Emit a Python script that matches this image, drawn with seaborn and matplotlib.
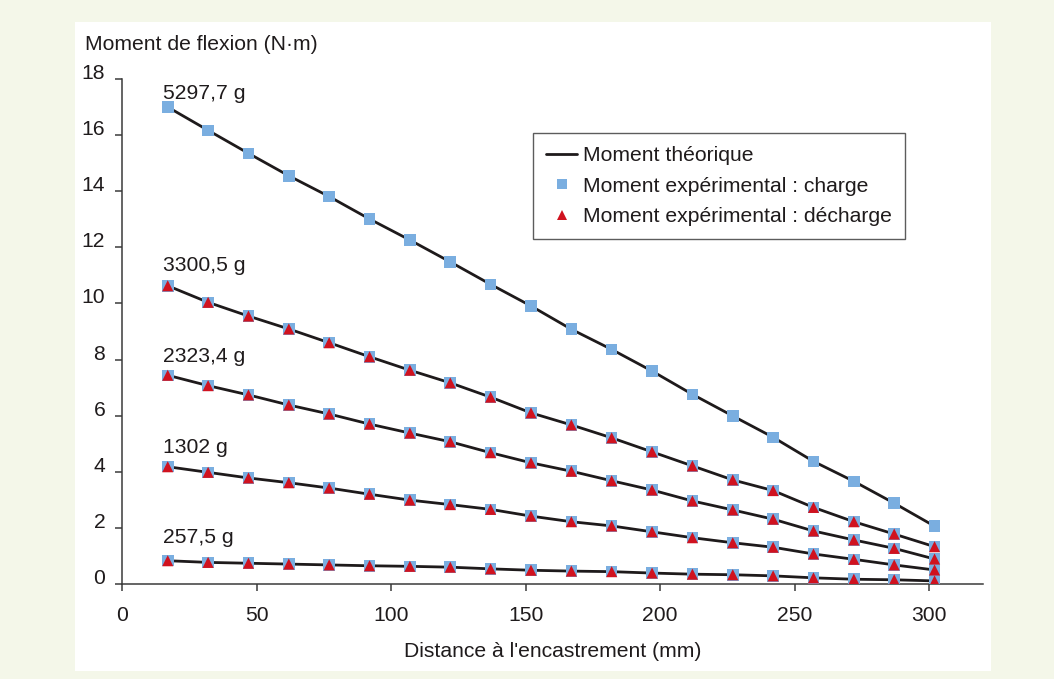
import matplotlib
matplotlib.use("Agg")
import matplotlib.pyplot as plt
import seaborn as sns
import pandas as pd
from matplotlib.lines import Line2D
from matplotlib.patches import Rectangle

# ---------------- data ----------------
distance_mm = [17, 32, 47, 62, 77, 92, 107, 122, 137, 152,
               167, 182, 197, 212, 227, 242, 257, 272, 287, 302]

load_labels = ["5297,7 g", "3300,5 g", "2323,4 g", "1302 g", "257,5 g"]

moment_5297 = [17.00, 16.17, 15.35, 14.55, 13.81, 13.01, 12.26, 11.48, 10.68, 9.91,
               9.08, 8.36, 7.59, 6.76, 5.99, 5.23, 4.37, 3.66, 2.88, 2.06]
moment_3300 = [10.63, 10.04, 9.55, 9.09, 8.60, 8.10, 7.62, 7.17, 6.66, 6.10,
               5.67, 5.21, 4.71, 4.21, 3.71, 3.33, 2.73, 2.22, 1.78, 1.33]
moment_2323 = [7.44, 7.07, 6.74, 6.38, 6.06, 5.70, 5.38, 5.07, 4.68, 4.32,
               4.02, 3.68, 3.35, 2.96, 2.64, 2.31, 1.89, 1.57, 1.27, 0.89]
moment_1302 = [4.18, 3.98, 3.78, 3.61, 3.42, 3.20, 2.99, 2.83, 2.66, 2.42,
               2.22, 2.07, 1.86, 1.65, 1.47, 1.31, 1.07, 0.88, 0.68, 0.50]
moment_257 = [0.83, 0.77, 0.74, 0.71, 0.68, 0.65, 0.63, 0.60, 0.54, 0.49,
              0.46, 0.44, 0.39, 0.35, 0.33, 0.29, 0.22, 0.17, 0.15, 0.11]

series_moments = [moment_5297, moment_3300, moment_2323, moment_1302, moment_257]
has_decharge = [False, True, True, True, True]

# label anchor (text baseline) for each load, in data units
label_y = [17.27, 11.15, 7.92, 4.68, 1.46]
label_x = 15.2

x_ticks = [0, 50, 100, 150, 200, 250, 300]
y_ticks = [0, 2, 4, 6, 8, 10, 12, 14, 16, 18]

legend_labels = ["Moment théorique",
                 "Moment expérimental : charge",
                 "Moment expérimental : décharge"]

# ---------------- build long table ----------------
rows = []
for lab, vals, dech in zip(load_labels, series_moments, has_decharge):
    for x, v in zip(distance_mm, vals):
        rows.append({"load": lab, "distance": x, "moment": v, "decharge": dech})
df = pd.DataFrame(rows)

# ---------------- style ----------------
sns.set_style("ticks")
plt.rcParams["font.family"] = ["Liberation Sans", "DejaVu Sans"]
TXT = "#1f1b1c"
BLUE = "#7aaee0"
RED = "#d0121f"
LINE = "#1e1a1b"
CREAM = "#f4f7e9"
FS = 15.2

fig = plt.figure(figsize=(10.54, 6.79), dpi=100, facecolor=CREAM)
fig.add_artist(Rectangle((75 / 1054, 1 - 671 / 679), (991 - 75) / 1054, (671 - 22) / 679,
                         transform=fig.transFigure, facecolor="white",
                         edgecolor="none", zorder=0))

ax = fig.add_axes([122 / 1054, 1 - 584 / 679, (983 - 122) / 1054, (584 - 79) / 679])
ax.set_facecolor("none")

# theoretical lines
sns.lineplot(data=df, x="distance", y="moment", units="load", estimator=None,
             color=LINE, linewidth=2.0, ax=ax, zorder=2, legend=False)
# charge markers
sns.scatterplot(data=df, x="distance", y="moment", marker="s", s=8.3 ** 2,
                color=BLUE, edgecolor="none", linewidth=0, ax=ax, zorder=3,
                legend=False)
# decharge markers
sns.scatterplot(data=df[df["decharge"]], x="distance", y="moment", marker="^",
                s=8.0 ** 2, color=RED, edgecolor="none", linewidth=0, ax=ax,
                zorder=4, legend=False)

for lab, yv in zip(load_labels, label_y):
    ax.text(label_x, yv, lab, fontsize=FS, color=TXT, ha="left", va="baseline")

ax.set_xlim(0, 320)
ax.set_ylim(0, 18)
ax.set_xticks(x_ticks)
ax.set_yticks(y_ticks)
ax.set_xlabel("Distance à l'encastrement (mm)", fontsize=FS, color=TXT, labelpad=12)
ax.set_ylabel("")
fig.text(85 / 1054, 1 - 44 / 679, "Moment de flexion (N·m)", fontsize=FS,
         color=TXT, ha="left", va="center")

for side in ["top", "right"]:
    ax.spines[side].set_visible(False)
for side in ["left", "bottom"]:
    ax.spines[side].set_color("#3a3a3a")
    ax.spines[side].set_linewidth(1.1)
ax.tick_params(axis="both", direction="out", length=5, width=1.1, color="#3a3a3a",
               labelsize=FS, labelcolor=TXT)
ax.tick_params(axis="x", pad=11)
ax.tick_params(axis="y", pad=7)
for t in ax.get_yticklabels():
    t.set_verticalalignment("baseline")

handles = [
    Line2D([], [], color=LINE, linewidth=2.0),
    Line2D([], [], color=BLUE, marker="s", linestyle="none", markersize=7,
           markeredgewidth=0),
    Line2D([], [], color=RED, marker="^", linestyle="none", markersize=7,
           markeredgewidth=0),
]
leg = ax.legend(handles, legend_labels, loc="upper left",
                bbox_to_anchor=(0.477, 0.893), borderaxespad=0, fontsize=FS,
                frameon=True, fancybox=False, edgecolor="#333333",
                handlelength=1.5, handletextpad=0.25, labelspacing=0.55,
                borderpad=0.62)
leg.get_frame().set_linewidth(1.0)
for t in leg.get_texts():
    t.set_color(TXT)

fig.savefig("out.png", dpi=100, facecolor=CREAM)
